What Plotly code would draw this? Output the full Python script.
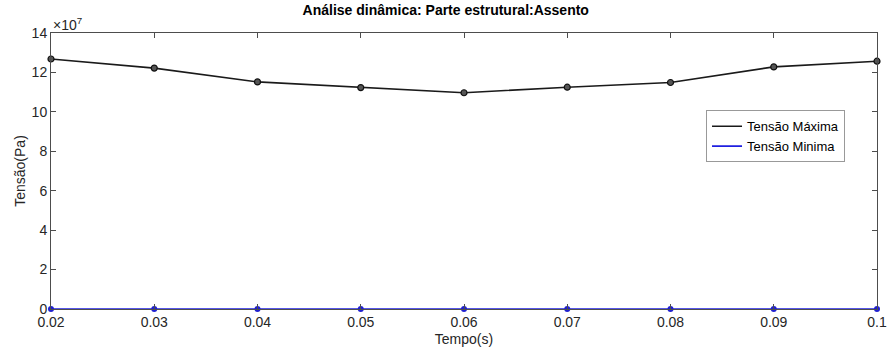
import plotly.graph_objects as go

# tempo (s) e tensões (Pa)
tempo = [0.02, 0.03, 0.04, 0.05, 0.06, 0.07, 0.08, 0.09, 0.10]
tensao_max = [12.68e7, 12.22e7, 11.52e7, 11.23e7, 10.97e7, 11.25e7, 11.49e7, 12.28e7, 12.57e7]
tensao_min = [2.0e4, 2.0e4, 2.0e4, 2.0e4, 2.0e4, 2.0e4, 2.0e4, 2.0e4, 2.0e4]

x_ticks = [0.02, 0.03, 0.04, 0.05, 0.06, 0.07, 0.08, 0.09, 0.1]
x_labels = ["0.02", "0.03", "0.04", "0.05", "0.06", "0.07", "0.08", "0.09", "0.1"]
y_ticks = [0, 2e7, 4e7, 6e7, 8e7, 10e7, 12e7, 14e7]
y_labels = ["0", "2", "4", "6", "8", "10", "12", "14"]

font = "Liberation Sans, Arial, sans-serif"
axis_col = "#4d4d4d"
black = "#1a1a1a"
blue = "#1f1fe0"

fig = go.Figure()
fig.add_trace(go.Scatter(
    x=tempo, y=tensao_max, mode="lines+markers", showlegend=False, cliponaxis=False,
    line=dict(color=black, width=1.6),
    marker=dict(symbol="circle", size=6, color="#555555", line=dict(color="#111111", width=1.2)),
))
fig.add_trace(go.Scatter(
    x=tempo, y=tensao_min, mode="lines+markers", showlegend=False, cliponaxis=False,
    line=dict(color=blue, width=1.6),
    marker=dict(symbol="circle", size=6, color="#2020d0"),
))
# legend entries drawn as plain lines (no markers), like the original
fig.add_trace(go.Scatter(x=[None], y=[None], mode="lines", name="Tensão Máxima",
                         line=dict(color=black, width=1.6)))
fig.add_trace(go.Scatter(x=[None], y=[None], mode="lines", name="Tensão Minima",
                         line=dict(color=blue, width=1.6)))

axis_common = dict(
    showgrid=False, zeroline=False, showline=True, linecolor=axis_col, linewidth=1,
    mirror="ticks", ticks="inside", ticklen=5, tickcolor=axis_col, automargin=False,
    tickfont=dict(family=font, size=14, color="#262626"),
)

fig.update_layout(
    width=888, height=351,
    margin=dict(l=51, r=11, t=33, b=42),
    paper_bgcolor="white", plot_bgcolor="white",
    font=dict(family=font, color="#262626"),
    title=dict(text="<b>Análise dinâmica: Parte estrutural:Assento</b>",
               x=0.502, xref="container", xanchor="center",
               y=1, yref="container", yanchor="top", pad=dict(t=5),
               font=dict(size=14, color="black"), automargin=False),
    xaxis=dict(range=[0.02, 0.1], tickvals=x_ticks, ticktext=x_labels,
               title=dict(text="Tempo(s)", font=dict(size=14), standoff=5), **axis_common),
    yaxis=dict(range=[0, 14e7], tickvals=y_ticks, ticktext=y_labels,
               title=dict(text="Tensão(Pa)", font=dict(size=14), standoff=2), **axis_common),
    legend=dict(x=0.793, y=0.72, xanchor="left", yanchor="top",
                bordercolor="#999999", borderwidth=1, bgcolor="white",
                font=dict(family=font, size=13, color="black"),
                tracegroupgap=0, itemwidth=30),
    showlegend=True,
)

fig.add_annotation(text="×10<sup>7</sup>", xref="paper", yref="paper", x=0.0, y=1.0,
                   xanchor="left", yanchor="bottom", showarrow=False,
                   font=dict(family=font, size=14, color="#262626"), yshift=-2)

# remove the default page margin so the figure sits at the window's corner
fig.write_html("out.html", config={"displayModeBar": False},
               post_script="document.body.style.margin='0';")
